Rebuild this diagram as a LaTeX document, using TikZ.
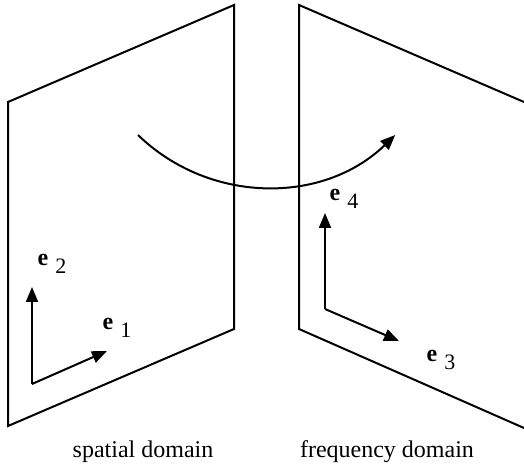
\documentclass[tikz,border=0pt]{standalone}
\usepackage{fontspec}
\setmainfont{Liberation Serif}
\usetikzlibrary{arrows.meta}

\newcommand{\evec}[1]{\textbf{e}\hspace{3.5pt}\raisebox{-4pt}{\fontsize{11}{13}\selectfont #1}}

\begin{document}
\begin{tikzpicture}[
  x=0.5pt, y=0.5pt,
  plane/.style={line width=1pt, line join=miter},
  vec/.style={line width=1pt, -{Triangle[length=7.5pt, width=6pt]}},
  lbl/.style={inner sep=0pt, font=\fontsize{12}{14}\selectfont}
]
  \useasboundingbox (0,0) rectangle (524,471);

  % the two planes
  \draw[plane] (8,369) -- (234,466) -- (234,142) -- (8,45) -- cycle;
  \draw[plane] (524,369) -- (299,466) -- (299,142) -- (524,43);

  % transform arc
  \coordinate (arcstart) at (138,336);
  \draw[vec] (arcstart) arc[start angle=225.9, end angle=314.1, radius=92.4pt];

  % basis vectors, spatial domain
  \coordinate (o1) at (32,87);
  \coordinate (t2) at (32,184);
  \coordinate (t1) at (107,120);
  \draw[vec] (o1) -- (t2);
  \draw[vec] (o1) -- (t1);

  % basis vectors, frequency domain
  \coordinate (o2) at (325,162);
  \coordinate (t4) at (325,258);
  \coordinate (t3) at (399,130);
  \draw[vec] (o2) -- (t4);
  \draw[vec] (o2) -- (t3);

  \node[lbl] (e2) at (52,207) {\evec{2}};
  \node[lbl] (e1) at (117,143) {\evec{1}};
  \node[lbl] (e4) at (344,272) {\evec{4}};
  \node[lbl] (e3) at (441,111) {\evec{3}};

  \node[lbl, anchor=base] (sp) at (143,14) {spatial domain};
  \node[lbl, anchor=base] (fq) at (387,14) {frequency domain};
\end{tikzpicture}
\end{document}
